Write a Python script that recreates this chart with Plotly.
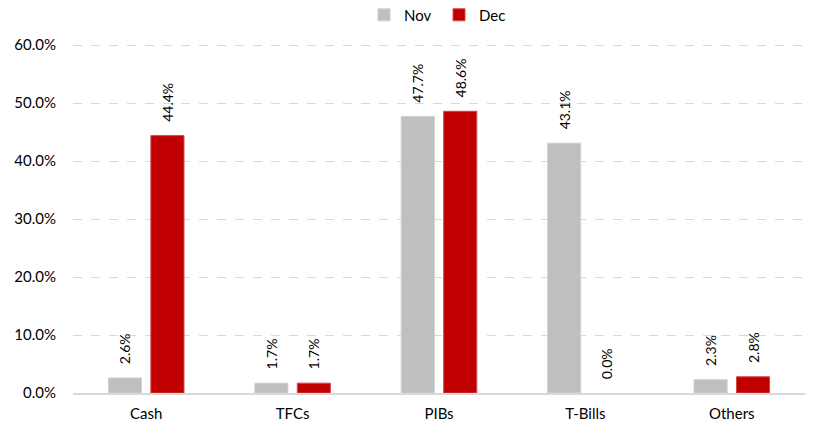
import plotly.graph_objects as go

categories = ["Cash", "TFCs", "PIBs", "T-Bills", "Others"]
nov_values = [2.6, 1.7, 47.7, 43.1, 2.3]
dec_values = [44.4, 1.7, 48.6, 0.0, 2.8]
y_ticks = [0, 10, 20, 30, 40, 50, 60]
y_tick_labels = ["0.0%", "10.0%", "20.0%", "30.0%", "40.0%", "50.0%", "60.0%"]

FONT = "Lato"
PAD = "\u00a0\u00a0\u00a0"  # space between bar top and its rotated label

fig = go.Figure()
for name, vals, color, edge in [
    ("Nov", nov_values, "#BFBFBF", "#D0D0D0"),
    ("Dec", dec_values, "#C00000", "#D44848"),
]:
    fig.add_trace(go.Bar(
        name=name,
        x=categories,
        y=vals,
        marker=dict(
            color=color,
            line=dict(color=edge, width=[1 if v > 0 else 0 for v in vals]),
        ),
        text=[f"{PAD}{v:.1f}%" for v in vals],
        textposition="outside",
        textangle=-90,
        constraintext="none",
        textfont=dict(family=FONT, size=14, color="#000000"),
        cliponaxis=False,
    ))

fig.update_layout(
    width=815,
    height=430,
    margin=dict(l=73, r=10, t=44, b=37, autoexpand=False),
    paper_bgcolor="white",
    plot_bgcolor="white",
    barmode="group",
    bargap=0.42,
    bargroupgap=0.22,
    font=dict(family=FONT, size=15, color="#000000"),
    legend=dict(
        orientation="h",
        x=0.5, xanchor="center",
        y=1.083, yanchor="middle",
        font=dict(family=FONT, size=15),
        itemwidth=30,
        entrywidth=30,
        traceorder="normal",
    ),
    xaxis=dict(
        showline=True,
        linecolor="#D9D9D9",
        linewidth=1.5,
        ticks="",
        tickfont=dict(family=FONT, size=15),
        ticklabelstandoff=6,
    ),
    yaxis=dict(
        range=[0, 60.2],
        tickvals=y_ticks,
        ticktext=y_tick_labels,
        showgrid=True,
        gridcolor="#D9D9D9",
        griddash="dash",
        gridwidth=1,
        zeroline=False,
        tickfont=dict(family=FONT, size=15),
        ticklabelstandoff=16,
    ),
)

fig.write_html("out.html")
